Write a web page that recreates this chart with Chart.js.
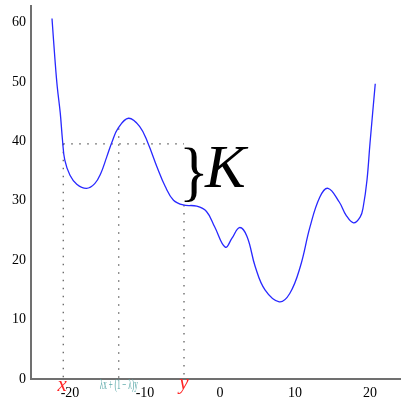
<!DOCTYPE html>
<html>
<head>
<meta charset="utf-8">
<script src="https://cdn.jsdelivr.net/npm/chart.js@4/dist/chart.umd.min.js"></script>
<style>
  body { margin: 0; background: #fff; }
  #wrap { width: 401px; height: 400px; }
</style>
</head>
<body>
<div id="wrap"><canvas id="myChartConvex" width="401" height="400"></canvas></div>
<script>
// curve
var curveX = [-22.4, -22.0, -21.7, -21.3, -21.0, -20.7, -20.0, -19.1, -17.8, -16.7, -15.9, -15.1, -14.4, -13.6, -12.2, -10.7, -9.6, -8.4, -7.3, -6.2, -4.9, -3.1, -1.8, -0.7, 0.7, 1.6, 2.6, 3.6, 4.7, 6.0, 7.9, 9.3, 10.7, 12.0, 13.3, 14.4, 15.9, 16.8, 17.8, 18.7, 19.1, 19.6, 20.0, 20.7];
var curveY = [60.7, 53.7, 49.2, 44.8, 40.2, 36.9, 34.3, 32.8, 32.1, 32.9, 34.6, 37.4, 39.9, 42.2, 43.9, 42.5, 39.7, 35.7, 32.4, 30.1, 29.3, 29.1, 28.2, 25.6, 22.2, 23.7, 25.5, 24.0, 18.9, 15.0, 13.0, 14.4, 18.9, 25.6, 30.6, 32.1, 29.8, 27.6, 26.3, 27.3, 29.0, 33.5, 39.7, 49.7];

var xTicks = [-20, -10, 0, 10, 20];
var yTicks = [0, 10, 20, 30, 40, 50, 60];

// marked points: x, lambda x + (1-lambda) y, y
var markX = [-20.9, -13.5, -4.8];
var markF = [39.6, 42.2, 29.3];
var markText = ['x', 'λx + (1 − λ)y', 'y'];

var dotted = { borderColor: '#555', borderWidth: 1.2, borderDash: [1.5, 6.5], pointRadius: 0, fill: false };

var datasets = [{
    data: curveX.map(function (v, i) { return { x: v, y: curveY[i] }; }),
    borderColor: 'rgb(40,40,255)',
    borderWidth: 1.3,
    pointRadius: 0,
    tension: 0.4,
    fill: false
}];
datasets.push(Object.assign({ data: [{ x: markX[0], y: markF[0] }, { x: markX[2], y: markF[0] }] }, dotted));
for (var i = 0; i < markX.length; i++) {
    datasets.push(Object.assign({ data: [{ x: markX[i], y: markF[i] }, { x: markX[i], y: 0 }] }, dotted));
}

var labelsPlugin = {
    id: 'labelsPlugin',
    afterDraw: function (chart) {
        var c = chart.ctx;
        var sx = chart.scales.x, sy = chart.scales.y;
        c.save();
        c.textAlign = 'center';
        c.textBaseline = 'alphabetic';
        c.fillStyle = '#ff2424';
        c.font = 'italic 21px "Liberation Serif"';
        c.fillText(markText[0], sx.getPixelForValue(markX[0]) - 1, 391);
        c.fillText(markText[2], sx.getPixelForValue(markX[2]), 389);
        c.fillStyle = '#5aa8a8';
        c.font = '14px "Liberation Serif"';
        c.fillText(markText[1], sx.getPixelForValue(markX[1]), 389, 38);

        // brace and K between f(x) and f(y)
        var top = sy.getPixelForValue(markF[0]);
        var bot = sy.getPixelForValue(markF[2]);
        var bx = sx.getPixelForValue(markX[2]);
        c.fillStyle = '#000';
        c.textAlign = 'left';
        c.font = '62px "Liberation Serif"';
        c.save();
        c.translate(bx - 5, (top + bot) / 2 + 4);
        c.scale(1, 1.06);
        c.fillText('}', 0, 14);
        c.restore();
        c.font = 'italic 61px "Liberation Serif"';
        c.fillText('K', bx + 21, 187);
        c.restore();
    }
};

var ctx = document.getElementById('myChartConvex').getContext('2d');
var myChartConvex = new Chart(ctx, {
    type: 'line',
    data: { datasets: datasets },
    options: {
        responsive: false,
        animation: false,
        layout: { padding: { top: 6, right: 1, left: 0, bottom: 0 } },
        plugins: { legend: { display: false }, tooltip: { enabled: false } },
        scales: {
            x: {
                type: 'linear',
                min: -25.2,
                max: 24,
                grid: { display: false, drawTicks: false },
                border: { color: '#707070', width: 2 },
                afterFit: function (s) { s.height = 21; s.paddingLeft = 0; s.paddingRight = 0; },
                afterBuildTicks: function (s) { s.ticks = xTicks.map(function (v) { return { value: v }; }); },
                ticks: { color: '#000', padding: 6, font: { family: 'Liberation Serif', size: 14 } }
            },
            y: {
                min: 0,
                max: 62.8,
                grid: { display: false, drawTicks: false },
                border: { color: '#707070', width: 2 },
                afterFit: function (s) { s.width = 31; s.paddingTop = 0; s.paddingBottom = 0; },
                afterBuildTicks: function (s) { s.ticks = yTicks.map(function (v) { return { value: v }; }); },
                ticks: { color: '#000', padding: 5, font: { family: 'Liberation Serif', size: 14 } }
            }
        }
    },
    plugins: [labelsPlugin]
});
</script>
</body>
</html>
